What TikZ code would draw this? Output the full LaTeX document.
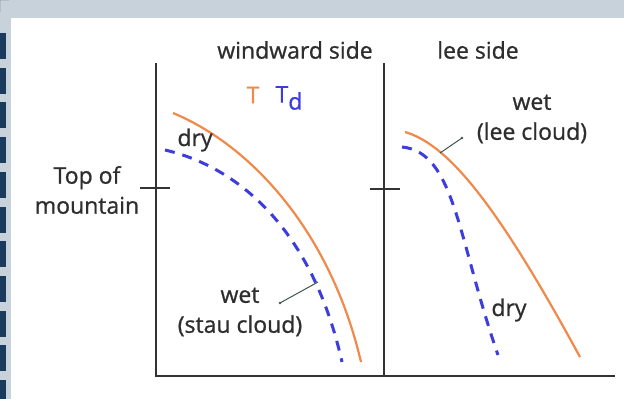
\documentclass[tikz,border=0pt]{standalone}
\usepackage{fontspec}
\setmainfont{Open Sans}[FakeBold=0.8]
\definecolor{frame}{HTML}{C8D2DB}
\definecolor{navy}{HTML}{1B3A5C}
\definecolor{axis}{HTML}{333333}
\definecolor{tcol}{HTML}{F0894A}
\definecolor{tdcol}{HTML}{3D3DDD}
\definecolor{txt}{HTML}{2E2E2E}
\definecolor{leadc}{HTML}{3E5550}
\tikzset{
  lbl/.style={inner sep=0pt, text=txt, font=\fontsize{23}{30}\selectfont, align=center},
  axisline/.style={draw=axis, line width=2.4pt},
  tcurve/.style={draw=tcol, line width=2.2pt},
  tdcurve/.style={draw=tdcol, line width=3pt, dash pattern=on 10pt off 8pt},
  leader/.style={draw=leadc, line width=1pt}
}
\begin{document}
\begin{tikzpicture}[x=1pt,y=-1pt]
\useasboundingbox (0,0) rectangle (624,399);
% frame
\fill[frame] (0,0) rectangle (624,399);
\fill[white] (11,18) rectangle (624,399);
\fill[navy] (0,0) -- (9,0) arc (0:-90:9 and 12) -- (0,12) -- cycle;
\foreach \i in {0,...,10} {
  \fill[navy] (0,{33+34.7*\i}) rectangle (6,{59+34.7*\i});
}
% axes
\draw[axisline] (156,63) -- (156,376) -- (615,376);
\draw[axisline] (384,63) -- (384,376);
\draw[axisline] (140,188) -- (170,188);
\draw[axisline] (370,189) -- (400,189);
% curves windward
\draw[tcurve] (173,113) .. controls (250,145) and (330,230) .. (361,362);
\draw[tdcurve] (165,150) .. controls (230,165) and (310,220) .. (342,362);
% curves lee
\draw[tcurve] (405,132) .. controls (450,145) and (500,210) .. (580,357);
\draw[tdcurve] (402,147) .. controls (455,152) and (458,240) .. (498,355);
% labels
\node[lbl] (ww) at (295,50) {windward side};
\node[lbl] (lee) at (478,50) {lee side};
\node[lbl] (top) at (87,190) {Top of\\mountain};
\node[lbl, text=tcol] (T) at (253,95) {T};
\node[lbl, text=tdcol] (Td) at (289,98) {T\raisebox{-7pt}{d}};
\node[lbl] (dry1) at (195,140) {dry};
\node[lbl] (wet1) at (240,312) {wet\\(stau cloud)};
\node[lbl] (wet2) at (532,119) {wet\\(lee cloud)};
\node[lbl] (dry2) at (509,310) {dry};
% leaders
\coordinate (s1) at (280,303);
\coordinate (s2) at (318,282);
\coordinate (l1) at (462,138);
\coordinate (l2) at (440,153);
\fill[leadc] (s1) circle (1.3);
\fill[leadc] (l1) circle (1.3);
\draw[leader] (s1) -- (s2);
\draw[leader] (l1) -- (l2);
\end{tikzpicture}
\end{document}
